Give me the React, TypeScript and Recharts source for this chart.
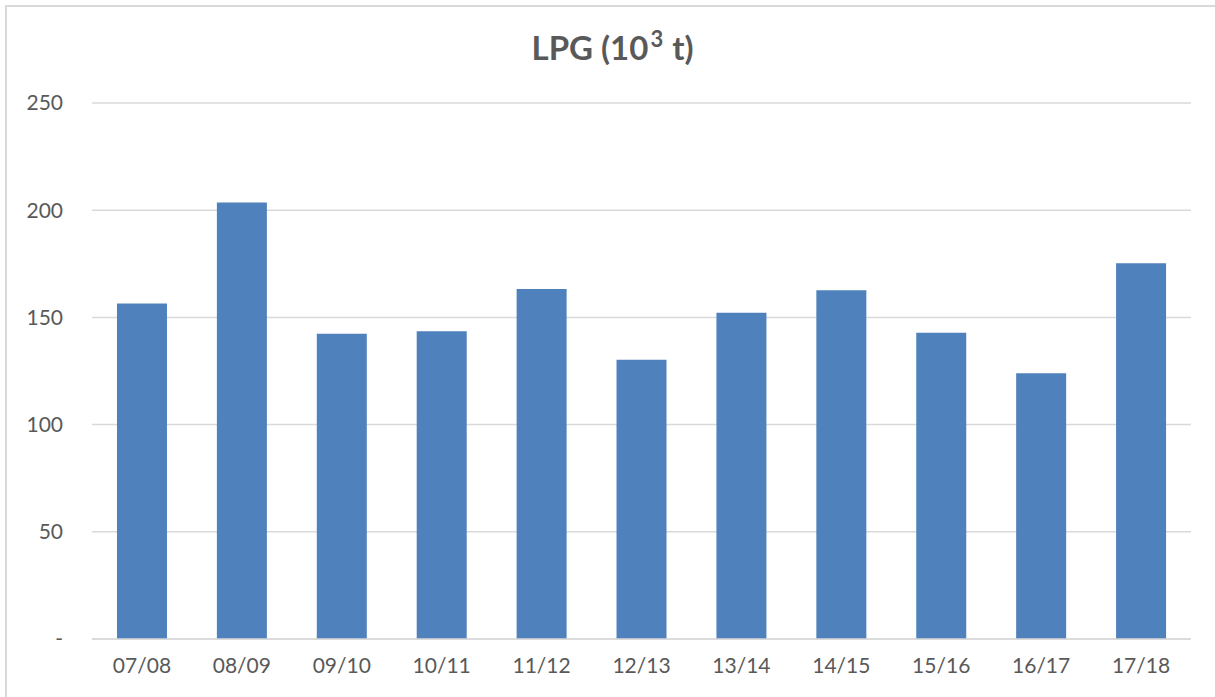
import { BarChart, Bar, XAxis, YAxis, CartesianGrid } from "recharts";

const years = ["07/08", "08/09", "09/10", "10/11", "11/12", "12/13", "13/14", "14/15", "15/16", "16/17", "17/18"];
const lpg = [156.5, 203.6, 142.4, 143.5, 163.2, 130.2, 152.2, 162.7, 142.8, 124.0, 175.2];
const yTicks = [0, 50, 100, 150, 200, 250];

const data = years.map((year, i) => ({ year, lpg: lpg[i] }));

const FONT = "Lato, 'Open Sans', sans-serif";
const TEXT = "#595959";
const GRID = "#d9d9d9";

const App = () => {
  return (
    <div style={{ position: "absolute", left: 0, top: 0, width: 1215, height: 697, overflow: "hidden", background: "#fff", fontFamily: FONT }}>
      {/* chart frame */}
      <div style={{ position: "absolute", left: 5, top: 5, width: 1230, height: 710, border: `2px solid ${GRID}`, boxSizing: "border-box" }} />
      <div style={{ position: "absolute", left: 0, top: 27, width: 1225, textAlign: "center", fontSize: 33, fontWeight: 700, color: TEXT, lineHeight: "40px" }}>
        LPG (10<span style={{ fontSize: 22, position: "relative", top: -13, marginLeft: 2, marginRight: 9 }}>3</span>t)
      </div>
      <BarChart
        width={1215}
        height={697}
        data={data}
        margin={{ top: 103, right: 24, left: 0, bottom: 0 }}
        barCategoryGap="25%"
        style={{ position: "absolute", left: 0, top: 0 }}
      >
        <CartesianGrid vertical={false} stroke={GRID} strokeWidth={1.5} />
        <XAxis
          dataKey="year"
          axisLine={{ stroke: GRID, strokeWidth: 1.5 }}
          tickLine={false}
          tickSize={0}
          tickMargin={19}
          tick={{ fill: TEXT, fontSize: 21, fontFamily: FONT }}
          height={58}
        />
        <YAxis
          domain={[0, 250]}
          ticks={yTicks}
          axisLine={false}
          tickLine={false}
          tickSize={0}
          tickMargin={29}
          width={92}
          tickFormatter={(v: number) => (v === 0 ? "-" : String(v))}
          tick={{ fill: TEXT, fontSize: 21, fontFamily: FONT }}
        />
        <Bar dataKey="lpg" fill="#4f81bd" isAnimationActive={false} />
      </BarChart>
    </div>
  );
};

export default App;
